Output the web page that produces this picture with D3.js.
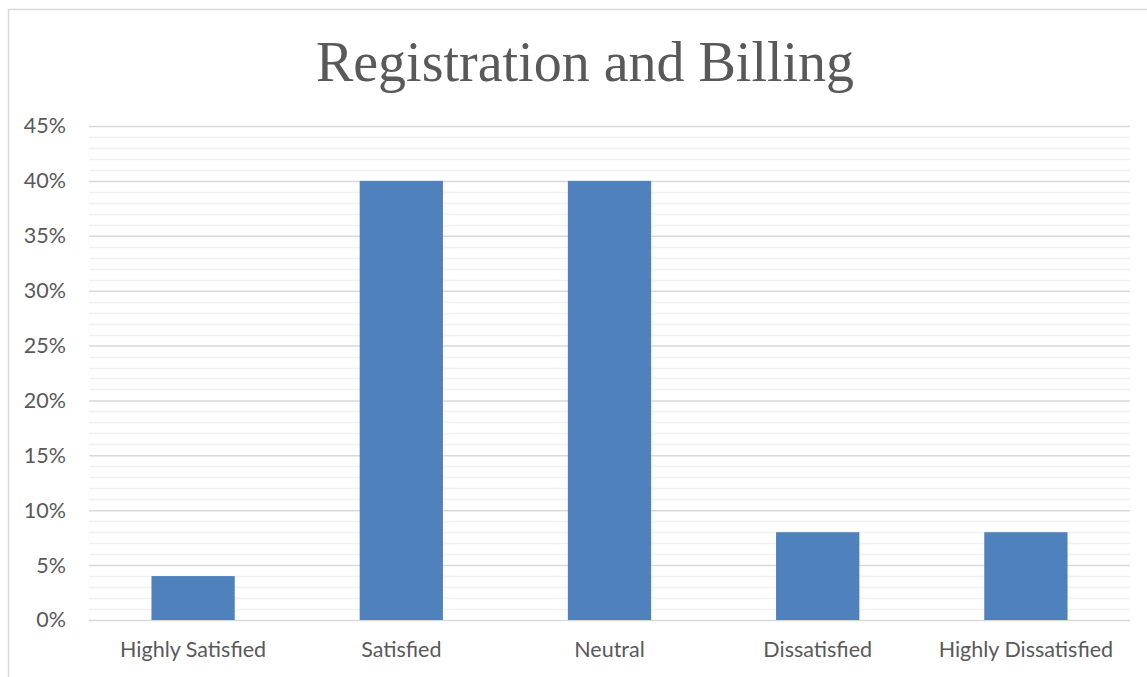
<!DOCTYPE html>
<html>
<head>
<meta charset="utf-8">
<script src="https://cdn.jsdelivr.net/npm/d3@7"></script>
<style>
  body { margin: 0; background: #fff; }
  svg { display: block; }
</style>
</head>
<body>
<script>
// chart data
var categories = ["Highly Satisfied", "Satisfied", "Neutral", "Dissatisfied", "Highly Dissatisfied"];
var values = [0.04, 0.40, 0.40, 0.08, 0.08];
var yTicks = [0, 0.05, 0.10, 0.15, 0.20, 0.25, 0.30, 0.35, 0.40, 0.45];
var title = "Registration and Billing";

var totalWidth = 1147,
    totalHeight = 677;

var margin = {"left": 89, "right": 17, "top": 126, "bottom": 57};

var svg = d3.select("body").append("svg")
    .attr("width", totalWidth)
    .attr("height", totalHeight);

// chart border
svg.append("rect")
    .attr("x", 8.5)
    .attr("y", 9.5)
    .attr("width", totalWidth + 10)
    .attr("height", totalHeight + 10)
    .attr("fill", "#fff")
    .attr("stroke", "#d9d9d9")
    .attr("stroke-width", 1.5);

var x = d3.scaleBand()
    .domain(categories)
    .range([margin.left, totalWidth - margin.right])
    .paddingInner(0.6)
    .paddingOuter(0.3);

var y = d3.scaleLinear()
    .domain([0, 0.45])
    .range([totalHeight - margin.bottom, margin.top]);

// minor gridlines
var minor = d3.range(0, 46).map(function(d) { return d / 100; })
    .filter(function(d) { return Math.round(d * 100) % 5 != 0; });

svg.append("g")
    .selectAll("line")
    .data(minor).enter()
    .append("line")
    .attr("x1", margin.left)
    .attr("x2", totalWidth - margin.right)
    .attr("y1", function(d) { return Math.round(y(d)) + 0.5; })
    .attr("y2", function(d) { return Math.round(y(d)) + 0.5; })
    .attr("stroke", "#f0f0f0")
    .attr("stroke-width", 1.5);

// major gridlines + labels via axis
var yAxis = svg.append("g")
    .attr("transform", "translate(" + margin.left + ",0)")
    .call(d3.axisLeft(y)
        .tickValues(yTicks)
        .tickFormat(d3.format(".0%"))
        .tickSize(-(totalWidth - margin.left - margin.right))
        .tickPadding(23));

yAxis.select(".domain").remove();
yAxis.selectAll(".tick line")
    .attr("stroke", "#d9d9d9")
    .attr("stroke-width", 1.5);
yAxis.selectAll(".tick text")
    .attr("fill", "#595959")
    .style("font-family", "Lato, 'Open Sans', sans-serif")
    .style("font-size", "21.5px");

// bars
svg.selectAll(".bar")
    .data(values).enter()
    .append("rect")
    .attr("class", "bar")
    .attr("x", function(d, i) { return x(categories[i]); })
    .attr("y", function(d) { return y(d); })
    .attr("width", x.bandwidth())
    .attr("height", function(d) { return y(0) - y(d); })
    .attr("fill", "#4f81bd");

// x labels
var xAxis = svg.append("g")
    .attr("transform", "translate(0," + y(0) + ")")
    .call(d3.axisBottom(x).tickSize(0).tickPadding(22));

xAxis.select(".domain").remove();
xAxis.selectAll(".tick text")
    .attr("fill", "#595959")
    .style("font-family", "Lato, 'Open Sans', sans-serif")
    .style("font-size", "21.5px");

// title
svg.append("text")
    .attr("x", 585)
    .attr("y", 81)
    .attr("text-anchor", "middle")
    .attr("fill", "#595959")
    .style("font-family", "'Liberation Serif', 'DejaVu Serif', serif")
    .style("font-size", "56px")
    .text(title);
</script>
</body>
</html>
